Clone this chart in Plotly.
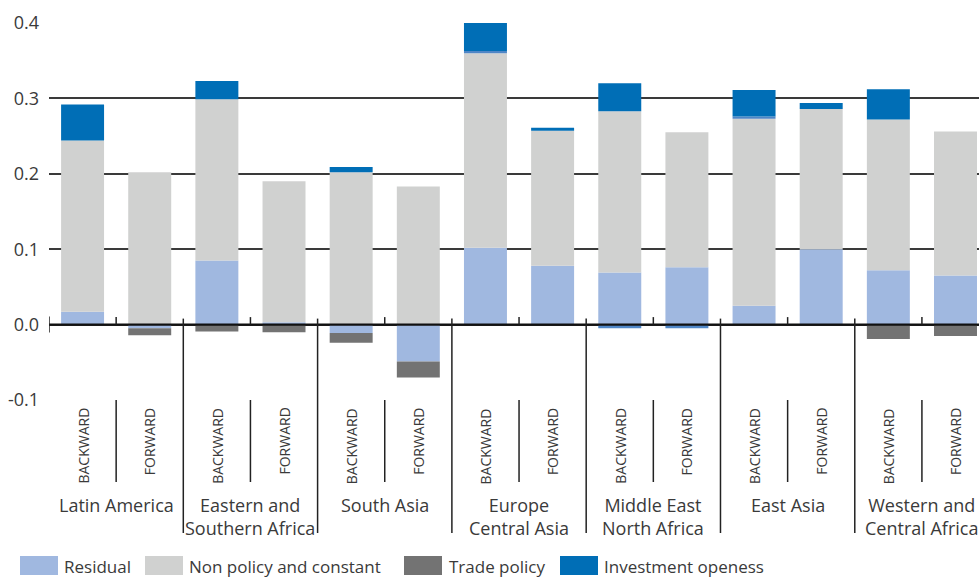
import plotly.graph_objects as go

regions = ["Latin America", "Eastern and<br>Southern Africa", "South Asia", "Europe<br>Central Asia",
           "Middle East<br>North Africa", "East Asia", "Western and<br>Central Africa"]
directions = ["BACKWARD", "FORWARD"]

residual = [0.017, -0.005, 0.085, 0.003, -0.011, -0.049, 0.102, 0.078, 0.069, 0.076, 0.025, 0.100, 0.072, 0.065]
non_policy = [0.227, 0.202, 0.214, 0.187, 0.202, 0.183, 0.258, 0.179, 0.214, 0.179, 0.248, 0.186, 0.200, 0.191]
trade_policy = [0, -0.009, -0.009, -0.010, -0.013, -0.021, 0, 0, 0, 0, 0, 0, -0.019, -0.015]
other = [0, 0, 0, 0, 0, 0, 0.003, 0, -0.005, -0.005, 0.003, 0, 0, 0]
investment = [0.048, 0, 0.024, 0, 0.007, 0, 0.037, 0.004, 0.037, 0, 0.035, 0.008, 0.040, 0]

y_ticks = [-0.1, 0, 0.1, 0.2, 0.3, 0.4]
y_labels = ["-0.1", "0.0", "0.1", "0.2", "0.3", "0.4"]

colors = {"Residual": "#A0B8E0", "Non policy and constant": "#D0D1D0",
          "Trade policy": "#737373", "Investment openess": "#006EB6"}

x = list(range(len(residual)))
txt = "#3a3a3a"
font = "Open Sans"

fig = go.Figure()
for name, vals in [("Residual", residual), ("Non policy and constant", non_policy),
                   ("Trade policy", trade_policy)]:
    fig.add_trace(go.Bar(x=x, y=vals, name=name, marker_color=colors[name], marker_line_width=0))
fig.add_trace(go.Bar(x=x, y=other, name="other", marker_color="#4F86C6", marker_line_width=0, showlegend=False))
fig.add_trace(go.Bar(x=x, y=investment, name="Investment openess",
                     marker_color=colors["Investment openess"], marker_line_width=0))

# plot area: paper y 0 -> -0.1, 1 -> 0.4 ; 377 px tall
px = 1 / 377.0
zero = 0.2
shapes = []
line = dict(color="#222", width=1.5)
# zero line on top of bars
shapes.append(dict(type="line", xref="x", yref="y", x0=-0.5, x1=13.5, y0=0, y1=0,
                   line=dict(color="#111", width=2.2), layer="above"))
shapes.append(dict(type="line", xref="x", yref="paper", x0=-0.5, x1=-0.5,
                   y0=zero - 8 * px, y1=zero + 8 * px, line=line))
for k in range(7):
    xi = 2 * k + 0.5
    shapes.append(dict(type="line", xref="x", yref="paper", x0=xi, x1=xi,
                       y0=zero, y1=zero + 7.5 * px, line=line))
    shapes.append(dict(type="line", xref="x", yref="paper", x0=xi, x1=xi,
                       y0=0, y1=-82 * px, line=line))
    xb = 2 * k + 1.5
    shapes.append(dict(type="line", xref="x", yref="paper", x0=xb, x1=xb,
                       y0=zero + 6 * px, y1=-133 * px, line=line))

annotations = []
for i in x:
    annotations.append(dict(x=i, y=-6 * px, xref="x", yref="paper", text=directions[i % 2],
                            textangle=-90, showarrow=False, xanchor="center", yanchor="top",
                            font=dict(family=font, size=14, color=txt)))
for k, r in enumerate(regions):
    annotations.append(dict(x=2 * k + 0.5, y=-91 * px, xref="x", yref="paper", text=r,
                            showarrow=False, xanchor="center", yanchor="top",
                            font=dict(family=font, size=18, color=txt)))

# legend drawn by hand (wide swatches)
legend_pos = [("Residual", 20, 62), ("Non policy and constant", 145, 187),
              ("Trade policy", 404, 447), ("Investment openess", 560, 602)]
for name, sx, tx in legend_pos:
    shapes.append(dict(type="rect", xref="paper", yref="paper",
                       x0=(sx - 49) / 930, x1=(sx + 38 - 49) / 930,
                       y0=-(556 - 400) * px, y1=-(575 - 400) * px,
                       fillcolor=colors[name], line_width=0))
    annotations.append(dict(x=(tx - 49) / 930, y=-(566 - 400) * px, xref="paper", yref="paper",
                            text=name, showarrow=False, xanchor="left", yanchor="middle",
                            font=dict(family=font, size=17, color=txt)))

fig.update_layout(
    width=979, height=578,
    margin=dict(l=49, r=0, t=23, b=178),
    barmode="relative", bargap=0.36,
    plot_bgcolor="white", paper_bgcolor="white",
    showlegend=False,
    shapes=shapes, annotations=annotations,
    font=dict(family=font, size=18, color=txt),
)
fig.update_xaxes(range=[-0.5, 13.35], showticklabels=False, showgrid=False, zeroline=False,
                 showline=False, ticks="")
fig.update_yaxes(range=[-0.1, 0.4], tickvals=y_ticks, ticktext=y_labels,
                 showgrid=True, gridcolor="#3a3a3a", gridwidth=1.5, zeroline=False,
                 showline=False, ticks="", ticklabelstandoff=9,
                 tickfont=dict(family=font, size=18, color=txt))

fig.write_html("out.html", config={"displayModeBar": False},
               post_script="document.body.style.margin='0';")
